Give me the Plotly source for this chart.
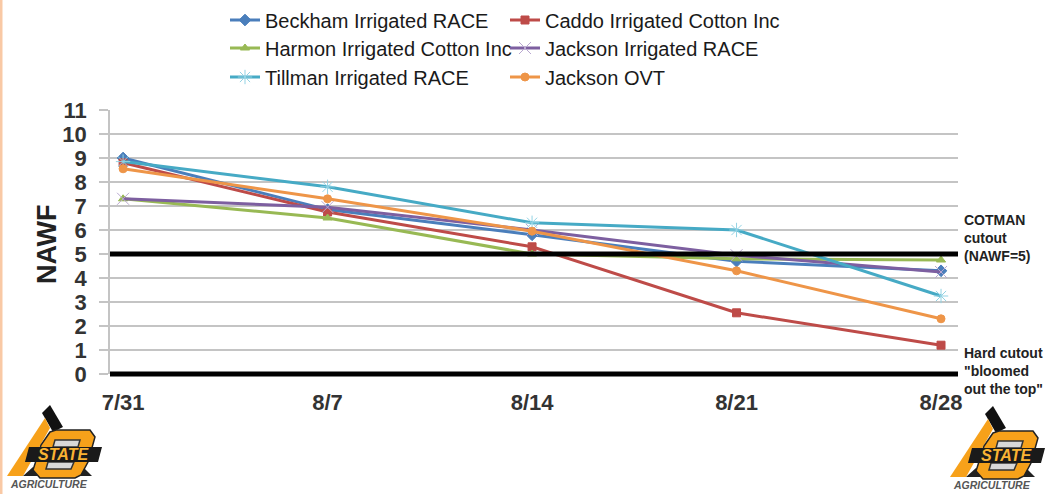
import plotly.graph_objects as go

W, H = 1048, 494
L, R, T, B = 110, 958, 110, 374

dates = ["7/31", "8/7", "8/14", "8/21", "8/28"]
beckham = [9.0, 6.85, 5.8, 4.7, 4.3]
caddo = [8.8, 6.75, 5.3, 2.55, 1.2]
harmon = [7.3, 6.5, 5.0, 4.8, 4.75]
jackson_irr = [7.3, 6.95, 6.0, 4.95, 4.25]
tillman = [8.85, 7.8, 6.3, 6.0, 3.25]
jackson_ovt = [8.55, 7.3, 5.95, 4.3, 2.3]
y_ticks = list(range(0, 12))
cutout_levels = [5, 0]

series = [
    ("Beckham Irrigated RACE", beckham, "#4a7ebb", "#4a7ebb", "diamond", 9, "legend", 235, 20),
    ("Caddo Irrigated Cotton Inc", caddo, "#be4b48", "#be4b48", "square", 8, "legend2", 515, 20),
    ("Harmon Irrigated Cotton Inc", harmon, "#98b954", "#98b954", "triangle-up", 8, "legend3", 235, 48),
    ("Jackson Irrigated RACE", jackson_irr, "#7d5fa0", "#b9a8d0", "x-thin-open", 12, "legend4", 515, 48),
    ("Tillman Irrigated RACE", tillman, "#46aac5", "#93d3e4", "asterisk-open", 12, "legend5", 235, 77),
    ("Jackson OVT", jackson_ovt, "#ee9548", "#ee9548", "circle", 8, "legend6", 515, 77),
]

def px(x):
    return (x - L) / (R - L)
def py(y):
    return (B - y) / (B - T)

fig = go.Figure()
legends = {}
for name, vals, col, mcol, sym, size, leg, lx, ly in series:
    fig.add_trace(go.Scatter(
        x=dates, y=vals, name=name, mode="lines+markers", legend=leg,
        line=dict(color=col, width=3),
        marker=dict(symbol=sym, size=size, color=mcol, line=dict(color=mcol, width=1)),
    ))
    legends[leg] = dict(
        x=px(lx - 10), y=py(ly), xanchor="left", yanchor="middle", xref="paper", yref="paper",
        bgcolor="rgba(0,0,0,0)", itemwidth=30, itemclick=False,
        font=dict(family="Liberation Sans", size=20, color="#1a1a1a"),
    )

shapes = [
    dict(type="rect", xref="paper", yref="paper", x0=px(0), x1=px(2.5), y0=py(0), y1=py(H),
         fillcolor="#f9c9a5", line_width=0, layer="below"),
]
for v in cutout_levels:
    shapes.append(dict(type="line", xref="paper", yref="paper", x0=0, x1=1, y0=v / 11, y1=v / 11,
                       line=dict(color="#000000", width=5), layer="above"))

def path(pts, offx):
    s = ""
    for i, (x, y) in enumerate(pts):
        s += ("M" if i == 0 else "L") + f"{px(x + offx):.5f},{py(y + (1 if offx else 0)):.5f} "
    return s + "Z"

annotations = []
for off in (0, 943):
    def poly(pts, fill, line=None):
        d = dict(type="path", xref="paper", yref="paper", layer="above", path=path(pts, off), fillcolor=fill)
        if line:
            d["line"] = dict(color=line, width=1.5)
        else:
            d["line_width"] = 0
        return d
    shapes += [
        poly([(42, 413), (50, 405), (63, 427), (53, 432)], "#111111"),
        poly([(7, 476), (45, 418), (50, 428), (23, 476)], "#f7a11a"),
        poly([(23, 476), (33, 467), (40, 476)], "#222222"),
        poly([(83, 467), (92, 476), (76, 476)], "#222222"),
        poly([(50, 432), (56, 430), (90, 430), (95, 437), (88, 462), (81, 475), (75, 478),
              (40, 478), (33, 470), (41, 445)], "#f7a11a", "#222222"),
        poly([(55, 440), (80, 440), (78, 447), (53, 447)], "#d8d8d8", "#333333"),
        poly([(48, 462), (74, 462), (71, 469), (46, 469)], "#d8d8d8", "#333333"),
        poly([(29, 447), (102, 447), (98, 462), (25, 462)], "#1a1a1a"),
    ]
    y_off = 1 if off else 0
    annotations.append(dict(x=px(63 + off), y=py(454.5 + y_off), xref="paper", yref="paper", text="<b><i>STATE</i></b>",
                            showarrow=False, font=dict(family="Liberation Sans", size=16, color="#f9b233"),
                            xanchor="center", yanchor="middle"))
    annotations.append(dict(x=px(49 + off), y=py(484 + y_off), xref="paper", yref="paper", text="<b><i>AGRICULTURE</i></b>",
                            showarrow=False, font=dict(family="Liberation Sans", size=10.5, color="#555555"),
                            xanchor="center", yanchor="middle"))

note_font = dict(family="Liberation Sans", size=14, color="#222222")
for text, x, y in (("<b>COTMAN<br>cutout<br>(NAWF=5)</b>", 962, 238), ("<b>Hard cutout<br>\"bloomed<br>out the top\"</b>", 962, 371)):
    annotations.append(dict(x=px(x), y=py(y), xref="paper", yref="paper", text=text, showarrow=False,
                            align="left", xanchor="left", yanchor="middle", font=note_font))
annotations.append(dict(x=px(47), y=py(245), xref="paper", yref="paper", text="<b>NAWF</b>", showarrow=False,
                        textangle=-90, font=dict(family="Liberation Sans", size=27, color="#222222"),
                        xanchor="center", yanchor="middle"))

layout = dict(
    width=W, height=H,
    margin=dict(l=L, r=W - R, t=T, b=H - B, autoexpand=False),
    paper_bgcolor="#ffffff", plot_bgcolor="#ffffff",
    xaxis=dict(type="category", categoryorder="array", categoryarray=dates, range=[-0.064, 4.083],
               showgrid=False, zeroline=False, showline=False, ticks="", ticklabelstandoff=13,
               tickfont=dict(family="Liberation Sans", size=22, color="#333333", weight="bold")),
    yaxis=dict(range=[0, 11], tickvals=y_ticks, showgrid=True, gridcolor="#c4c4c4", gridwidth=1.5,
               zeroline=False, showline=True, linecolor="#c4c4c4", linewidth=1.5,
               ticks="outside", ticklen=9, tickcolor="#c4c4c4", tickwidth=1.5, ticklabelstandoff=8,
               tickfont=dict(family="Liberation Sans", size=22, color="#333333", weight="bold")),
    shapes=shapes, annotations=annotations, showlegend=True,
)
layout.update(legends)
fig.update_layout(**layout)
fig.write_html("out.html", post_script="document.body.style.margin='0';",
               config={"displayModeBar": False})
